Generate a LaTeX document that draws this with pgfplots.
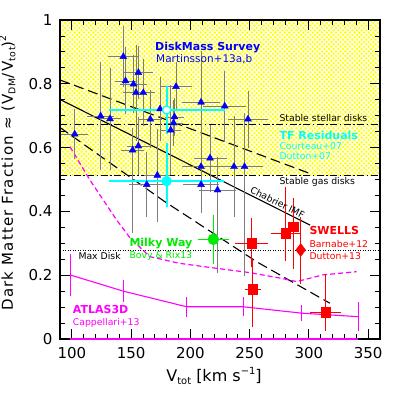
\documentclass[border=0pt]{standalone}
\usepackage{fontspec}
\setmainfont{DejaVu Sans}
\usepackage{graphicx}
\usepackage{pgfplots}
\pgfplotsset{compat=1.18}
\usetikzlibrary{patterns.meta}

\definecolor{errgray}{RGB}{125,125,125}
\definecolor{myblue}{RGB}{0,0,255}
\definecolor{mycyan}{RGB}{0,255,255}
\definecolor{mygreen}{RGB}{0,235,0}
\definecolor{myred}{RGB}{255,0,0}
\definecolor{mymag}{RGB}{255,0,255}
\definecolor{hyellow}{RGB}{255,255,0}

\newcommand\sub[1]{\raisebox{-0.3ex}{\scalebox{0.62}{#1}}}
\newcommand\super[1]{\raisebox{0.85ex}{\scalebox{0.62}{#1}}}
\newcommand\fsbig{\fontsize{11}{13}\selectfont\bfseries}
\newcommand\fssm{\fontsize{9.3}{11}\selectfont}

\begin{document}
\begin{tikzpicture}
\path (0,0) rectangle (399pt,399pt);
\begin{axis}[
  set layers,
  at={(60pt,60pt)}, anchor=south west,
  width=320pt, height=319pt, scale only axis,
  xmin=90, xmax=360, ymin=0, ymax=1,
  xtick={100,150,...,350}, minor x tick num=4,
  ytick={0,0.2,0.4,0.6,0.8,1}, minor y tick num=3,
  tick align=inside,
  major tick length=10pt, minor tick length=5pt,
  every tick/.style={black, line width=0.8pt},
  axis line style={line width=1.2pt},
  tick label style={font=\fontsize{15}{18}\selectfont},
  /pgf/number format/assume math mode=true,
  xticklabel style={yshift=-5pt},
  yticklabel style={xshift=-4pt},
  clip=false,
]
% hatched region
\addplot[draw=none, fill=hyellow, on layer=axis background, forget plot]
  coordinates {(90,0.512) (360,0.512) (360,1) (90,1)} -- cycle;
\addplot[draw=none, pattern={Lines[angle=45,distance=3.3pt,line width=1.15pt]}, pattern color=white, on layer=axis background, forget plot]
  coordinates {(90,0.512) (360,0.512) (360,1) (90,1)} -- cycle;
\addplot[draw=none, pattern={Lines[angle=-45,distance=3.3pt,line width=1.15pt]}, pattern color=white, on layer=axis background, forget plot]
  coordinates {(90,0.512) (360,0.512) (360,1) (90,1)} -- cycle;

% horizontal reference lines
\addplot[black, line width=0.8pt, dash pattern=on 7pt off 2.5pt on 1.5pt off 2.5pt] coordinates {(90,0.673) (360,0.673)};
\addplot[black, line width=0.8pt, dash pattern=on 7pt off 2.5pt on 1.5pt off 2.5pt] coordinates {(90,0.512) (360,0.512)};
\addplot[black, line width=0.7pt, dash pattern=on 1pt off 1.5pt] coordinates {(90,0.277) (360,0.277)};

% model lines
\addplot[black, line width=1.1pt] coordinates {(90,0.751) (301,0.357)};
\addplot[black, line width=1.1pt, dash pattern=on 10pt off 5pt] coordinates {(90,0.812) (300,0.520)};
\addplot[black, line width=1.1pt, dash pattern=on 10pt off 5pt] coordinates {(90,0.663) (178.6,0.430) (202.2,0.373) (256,0.242) (317.8,0.112)};

% magenta dashed
\addplot[mymag, line width=1.2pt, dash pattern=on 5pt off 3pt] coordinates {
(98.4,0.603) (115.3,0.498) (137.8,0.373) (149.1,0.317) (165.9,0.258) (191.2,0.237) (219.1,0.223) (250.3,0.208) (275.6,0.191) (289.7,0.180) (311.9,0.201) (340.3,0.211)};

% ATLAS3D
\addplot[mymag, line width=1.1pt, mark=none, error bars/.cd, y dir=both, y explicit,
  error bar style={mymag, line width=0.7pt}, error mark options={mymag, mark size=3pt, line width=0.7pt}]
  coordinates {(98.4,0.201) +- (0,0.057) (143.4,0.150) +- (0,0.026) (196.9,0.101) +- (0,0.022) (244.7,0.101) +- (0,0.021) (293.9,0.081) +- (0,0.016) (341.7,0.070) +- (0,0.037)};
\addplot[mymag, line width=1.5pt] coordinates {(98.4,0) (341.7,0)};

% DiskMass
\addplot[only marks, mark=triangle*, mark size=4pt, mark options={fill=myblue, draw=myblue}, myblue,
  error bars/.cd, x dir=both, x explicit, y dir=both, y explicit,
  error bar style={errgray, line width=0.8pt}, error mark options={errgray, mark size=3.5pt, line width=0.8pt}]
  coordinates {
(143.4,0.885) +- (9.9,0.085)
(156.1,0.835) +- (9.5,0.072)
(145.3,0.809) +- (6,0.094)
(152.0,0.799) +- (8.4,0.08)
(154.1,0.772) +- (8.4,0.14)
(160.3,0.772) +- (7,0.094)
(187.9,0.791) +- (10.5,0.065)
(209.0,0.742) +- (12.7,0.15)
(229.0,0.730) +- (15,0.10)
(174.4,0.721) +- (6,0.09)
(124.3,0.699) +- (8.4,0.157)
(132.2,0.690) +- (6,0.15)
(166.2,0.689) +- (7,0.08)
(186.6,0.696) +- (5,0.05)
(185.8,0.677) +- (5,0.06)
(183.4,0.655) +- (6,0.13)
(248.6,0.689) +- (14,0.078)
(102.4,0.642) +- (8.4,0.068)
(151.3,0.592) += (7,0.057) -= (7,0.25)
(156.1,0.605) +- (7,0.08)
(209.0,0.540) +- (13,0.13)
(216.6,0.567) +- (11,0.094)
(236.8,0.540) +- (12.7,0.147)
(245.7,0.540) += (12.7,0.157) -= (12.7,0.33)
(172.1,0.513) +- (8,0.135)
(163.2,0.484) +- (12,0.09)
(209.0,0.484) +- (12,0.078)
(222.9,0.467) += (13,0.094) -= (13,0.25)
};

% TF residuals
\addplot[only marks, mark=*, mark size=4pt, mark options={draw=mycyan, fill=white, line width=1.2pt}, mycyan,
  error bars/.cd, x dir=both, x explicit, y dir=both, y explicit,
  error bar style={mycyan, line width=1.8pt}, error mark options={mycyan, mark size=4pt, line width=1.8pt}]
  coordinates {(180,0.718) +- (45.7,0.063)};
\addplot[only marks, mark=*, mark size=5pt, mark options={draw=mycyan, fill=mycyan}, mycyan,
  error bars/.cd, x dir=both, x explicit, y dir=both, y explicit,
  error bar style={mycyan, line width=1.8pt}, error mark options={mycyan, mark size=4pt, line width=1.8pt}]
  coordinates {(180,0.495) += (45,0.108) -= (45,0.070)};

% Milky Way
\addplot[only marks, mark=*, mark size=5.5pt, mark options={draw=mygreen, fill=mygreen}, mygreen,
  error bars/.cd, x dir=both, x explicit, y dir=both, y explicit,
  error bar style={mygreen, line width=1.5pt}, error mark options={mygreen, mark size=4pt, line width=1.5pt}]
  coordinates {(219.4,0.3125) +- (9.8,0.065)};

% SWELLS
\addplot[only marks, mark=square*, mark size=4.8pt, mark options={draw=myred, fill=myred}, myred,
  error bars/.cd, x dir=both, x explicit, y dir=both, y explicit,
  error bar style={myred, line width=1pt}, error mark options={myred, mark size=4pt, line width=1pt}]
  coordinates {
(251.7,0.300) += (10.5,0.068) -= (10.5,0.063)
(252.6,0.156) += (3.4,0.082) -= (3.4,0.107)
(280.4,0.331) += (9.1,0.134) -= (9.1,0.073)
(286.9,0.352) += (0,0.078) -= (0,0.12)
(314.2,0.084) += (9.8,0.106) -= (9.8,0.045)
};
\addplot[only marks, mark=diamond*, mark size=6.5pt, mark options={draw=myred, fill=myred}, myred,
  error bars/.cd, y dir=both, y explicit,
  error bar style={myred, line width=1pt}, error mark options={myred, mark size=4pt, line width=1pt}]
  coordinates {(293.1,0.279) += (0,0.09) -= (0,0.094)};
\end{axis}

% labels
\begin{scope}[every node/.style={inner sep=0pt}]
\node[anchor=base west, text=myblue, font=\fsbig] at (155pt,348.5pt) {DiskMass Survey};
\node[anchor=base west, text=myblue, font=\fontsize{10.5}{12}\selectfont] at (156pt,336.5pt) {Martinsson+13a,b};
\node[anchor=base west, font=\fssm] at (279.3pt,277pt) {Stable stellar disks};
\node[anchor=base west, text=mycyan, font=\fsbig] at (279.3pt,259.7pt) {TF Residuals};
\node[anchor=base west, text=mycyan, font=\fssm] at (279.3pt,249pt) {Courteau+07};
\node[anchor=base west, text=mycyan, font=\fssm] at (279.3pt,239pt) {Dutton+07};
\node[anchor=base west, font=\fssm] at (279.3pt,214pt) {Stable gas disks};
\node[anchor=base, font=\fssm, rotate=-26.7] at (276pt,193.5pt) {Chabrier IMF};
\node[anchor=base west, text=myred, font=\fsbig] at (309.3pt,164pt) {SWELLS};
\node[anchor=base west, text=myred, font=\fssm] at (309.3pt,151.7pt) {Barnabe+12};
\node[anchor=base west, text=myred, font=\fssm] at (309.3pt,139pt) {Dutton+13};
\node[anchor=base west, text=mygreen, font=\fsbig] at (129.3pt,152.3pt) {Milky Way};
\node[anchor=base west, text=mygreen, font=\fssm] at (129.3pt,140.5pt) {Bovy \& Rix13};
\node[anchor=base west, font=\fssm] at (78.3pt,139pt) {Max Disk};
\node[anchor=base west, text=mymag, font=\fsbig] at (72.7pt,85.7pt) {ATLAS3D};
\node[anchor=base west, text=mymag, font=\fssm] at (72.7pt,73.5pt) {Cappellari+13};
\end{scope}

% axis labels
\node[anchor=base, font=\fontsize{16}{19}\selectfont] at (214pt,17pt) {V\sub{tot} [km s\super{−1}]};
\node[anchor=base, rotate=90, font=\fontsize{15}{18}\selectfont\addfontfeatures{LetterSpace=8}] at (13pt,226pt)
  {Dark Matter Fraction ≈ (V\sub{DM}/V\sub{tot})\super{2}};
\pgfresetboundingbox
\useasboundingbox (0,0) rectangle (399pt,399pt);
\end{tikzpicture}
\end{document}
